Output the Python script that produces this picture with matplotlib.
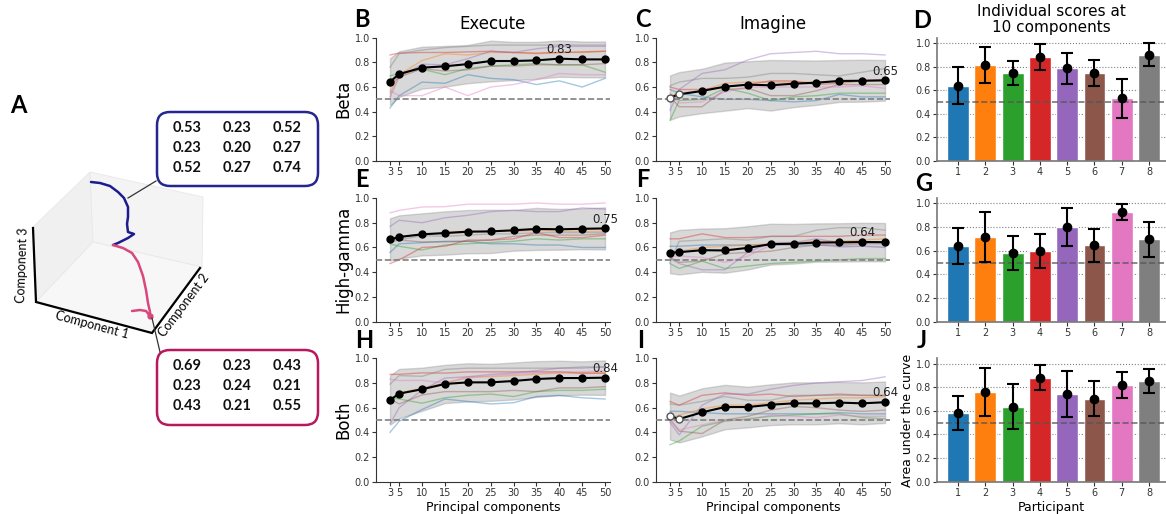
import matplotlib
matplotlib.use("Agg")
import matplotlib.pyplot as plt
from matplotlib.patches import FancyBboxPatch, Polygon
import numpy as np

plt.rcParams['font.family'] = 'DejaVu Sans'

# === DATA ===
components = [3, 5, 10, 15, 20, 25, 30, 35, 40, 45, 50]
participants = [1, 2, 3, 4, 5, 6, 7, 8]
part_colors = ['#1f77b4', '#ff7f0e', '#2ca02c', '#d62728',
               '#9467bd', '#8c564b', '#e377c2', '#7f7f7f']

# execute - beta
exe_beta_mean = [0.643, 0.705, 0.757, 0.768, 0.786, 0.811, 0.811, 0.816, 0.830, 0.824, 0.824]
exe_beta_sd = [0.19, 0.185, 0.17, 0.165, 0.155, 0.165, 0.155, 0.15, 0.147, 0.145, 0.145]
exe_beta_subj = [
    [0.43, 0.53, 0.64, 0.63, 0.70, 0.67, 0.66, 0.62, 0.65, 0.60, 0.67],
    [0.55, 0.70, 0.815, 0.87, 0.86, 0.88, 0.88, 0.87, 0.88, 0.88, 0.89],
    [0.69, 0.71, 0.745, 0.70, 0.75, 0.77, 0.78, 0.79, 0.78, 0.78, 0.72],
    [0.86, 0.875, 0.88, 0.88, 0.885, 0.89, 0.88, 0.875, 0.88, 0.885, 0.89],
    [0.52, 0.68, 0.785, 0.78, 0.83, 0.89, 0.88, 0.91, 0.93, 0.93, 0.93],
    [0.62, 0.68, 0.748, 0.73, 0.74, 0.77, 0.77, 0.78, 0.78, 0.78, 0.79],
    [0.57, 0.53, 0.53, 0.60, 0.53, 0.60, 0.62, 0.66, 0.71, 0.70, 0.70],
    [0.76, 0.87, 0.90, 0.92, 0.93, 0.94, 0.94, 0.94, 0.94, 0.94, 0.94],
]
exe_beta_nonsig = []

# execute - high gamma
exe_hg_mean = [0.666, 0.685, 0.706, 0.717, 0.728, 0.730, 0.739, 0.750, 0.747, 0.751, 0.754]
exe_hg_sd = [0.17, 0.175, 0.17, 0.175, 0.175, 0.175, 0.165, 0.17, 0.165, 0.165, 0.17]
exe_hg_subj = [
    [0.56, 0.63, 0.639, 0.65, 0.65, 0.63, 0.63, 0.62, 0.62, 0.60, 0.60],
    [0.66, 0.68, 0.713, 0.71, 0.72, 0.73, 0.73, 0.74, 0.73, 0.73, 0.73],
    [0.63, 0.61, 0.58, 0.62, 0.63, 0.64, 0.65, 0.67, 0.66, 0.67, 0.67],
    [0.47, 0.50, 0.60, 0.61, 0.66, 0.66, 0.67, 0.72, 0.68, 0.68, 0.70],
    [0.77, 0.82, 0.80, 0.84, 0.86, 0.89, 0.90, 0.89, 0.89, 0.92, 0.91],
    [0.67, 0.66, 0.645, 0.645, 0.65, 0.66, 0.69, 0.70, 0.70, 0.70, 0.71],
    [0.88, 0.90, 0.927, 0.93, 0.95, 0.95, 0.95, 0.96, 0.95, 0.95, 0.96],
    [0.64, 0.66, 0.696, 0.69, 0.70, 0.71, 0.71, 0.72, 0.72, 0.72, 0.72],
]
exe_hg_nonsig = []

# execute - both
exe_both_mean = [0.662, 0.714, 0.749, 0.792, 0.805, 0.805, 0.816, 0.832, 0.840, 0.840, 0.843]
exe_both_sd = [0.20, 0.20, 0.175, 0.155, 0.155, 0.15, 0.15, 0.145, 0.14, 0.135, 0.14]
exe_both_subj = [
    [0.40, 0.49, 0.585, 0.67, 0.65, 0.63, 0.64, 0.69, 0.70, 0.68, 0.67],
    [0.65, 0.72, 0.759, 0.80, 0.85, 0.85, 0.86, 0.87, 0.88, 0.88, 0.88],
    [0.68, 0.67, 0.636, 0.68, 0.70, 0.71, 0.69, 0.73, 0.74, 0.74, 0.75],
    [0.87, 0.87, 0.882, 0.88, 0.89, 0.89, 0.89, 0.89, 0.89, 0.88, 0.88],
    [0.47, 0.60, 0.742, 0.84, 0.85, 0.87, 0.88, 0.90, 0.92, 0.92, 0.93],
    [0.67, 0.63, 0.703, 0.73, 0.73, 0.73, 0.74, 0.73, 0.76, 0.76, 0.77],
    [0.83, 0.82, 0.821, 0.80, 0.84, 0.86, 0.87, 0.88, 0.89, 0.89, 0.90],
    [0.79, 0.86, 0.854, 0.91, 0.92, 0.92, 0.92, 0.92, 0.92, 0.93, 0.93],
]
exe_both_nonsig = []

# imagine - beta
img_beta_mean = [0.514, 0.541, 0.568, 0.603, 0.619, 0.614, 0.627, 0.635, 0.649, 0.651, 0.654]
img_beta_sd = [0.18, 0.18, 0.18, 0.195, 0.19, 0.205, 0.19, 0.18, 0.17, 0.17, 0.165]
img_beta_subj = [
    [0.58, 0.55, 0.52, 0.50, 0.50, 0.49, 0.48, 0.49, 0.54, 0.52, 0.52],
    [0.53, 0.55, 0.57, 0.63, 0.64, 0.64, 0.64, 0.64, 0.65, 0.65, 0.65],
    [0.33, 0.49, 0.50, 0.59, 0.55, 0.49, 0.52, 0.53, 0.55, 0.55, 0.55],
    [0.60, 0.58, 0.58, 0.60, 0.62, 0.65, 0.65, 0.62, 0.63, 0.65, 0.66],
    [0.41, 0.58, 0.71, 0.74, 0.82, 0.87, 0.88, 0.89, 0.87, 0.87, 0.86],
    [0.52, 0.44, 0.44, 0.58, 0.59, 0.53, 0.53, 0.57, 0.62, 0.62, 0.62],
    [0.55, 0.47, 0.48, 0.56, 0.60, 0.60, 0.60, 0.60, 0.60, 0.61, 0.59],
    [0.61, 0.64, 0.67, 0.67, 0.68, 0.71, 0.71, 0.70, 0.69, 0.72, 0.75],
]
img_beta_nonsig = [0, 1]

# imagine - high gamma
img_hg_mean = [0.557, 0.562, 0.578, 0.576, 0.597, 0.627, 0.630, 0.640, 0.641, 0.644, 0.643]
img_hg_sd = [0.165, 0.18, 0.175, 0.18, 0.175, 0.165, 0.16, 0.155, 0.155, 0.155, 0.155]
img_hg_subj = [
    [0.61, 0.61, 0.62, 0.62, 0.62, 0.62, 0.62, 0.62, 0.61, 0.61, 0.60],
    [0.56, 0.57, 0.60, 0.61, 0.62, 0.63, 0.64, 0.65, 0.65, 0.66, 0.67],
    [0.47, 0.43, 0.49, 0.43, 0.45, 0.47, 0.48, 0.49, 0.50, 0.51, 0.51],
    [0.67, 0.67, 0.71, 0.68, 0.68, 0.69, 0.69, 0.69, 0.69, 0.70, 0.70],
    [0.51, 0.47, 0.42, 0.42, 0.56, 0.64, 0.64, 0.67, 0.64, 0.65, 0.64],
    [0.52, 0.48, 0.49, 0.55, 0.56, 0.57, 0.60, 0.62, 0.62, 0.63, 0.63],
    [0.53, 0.53, 0.52, 0.48, 0.53, 0.62, 0.63, 0.64, 0.60, 0.61, 0.61],
    [0.48, 0.65, 0.66, 0.67, 0.66, 0.69, 0.69, 0.74, 0.76, 0.76, 0.74],
]
img_hg_nonsig = []

# imagine - both
img_both_mean = [0.532, 0.508, 0.562, 0.605, 0.605, 0.624, 0.635, 0.635, 0.641, 0.635, 0.644]
img_both_sd = [0.19, 0.19, 0.195, 0.18, 0.165, 0.165, 0.17, 0.17, 0.168, 0.17, 0.168]
img_both_subj = [
    [0.57, 0.57, 0.56, 0.55, 0.55, 0.55, 0.55, 0.55, 0.56, 0.55, 0.55],
    [0.51, 0.54, 0.59, 0.62, 0.62, 0.64, 0.66, 0.67, 0.68, 0.68, 0.69],
    [0.30, 0.33, 0.45, 0.49, 0.51, 0.53, 0.54, 0.55, 0.55, 0.52, 0.51],
    [0.65, 0.62, 0.70, 0.72, 0.70, 0.71, 0.69, 0.70, 0.71, 0.70, 0.70],
    [0.48, 0.38, 0.62, 0.71, 0.71, 0.75, 0.78, 0.80, 0.81, 0.82, 0.85],
    [0.51, 0.41, 0.39, 0.50, 0.53, 0.58, 0.61, 0.60, 0.58, 0.57, 0.58],
    [0.49, 0.42, 0.46, 0.50, 0.50, 0.54, 0.53, 0.52, 0.54, 0.53, 0.53],
    [0.63, 0.62, 0.65, 0.69, 0.66, 0.66, 0.70, 0.70, 0.70, 0.70, 0.70],
]
img_both_nonsig = [0, 1]

# individual scores at 10 components
bar_beta_mean = [0.637, 0.815, 0.745, 0.881, 0.785, 0.748, 0.530, 0.901]
bar_beta_sd = [0.158, 0.155, 0.105, 0.108, 0.13, 0.11, 0.165, 0.10]
bar_hg_mean = [0.639, 0.713, 0.580, 0.600, 0.800, 0.645, 0.927, 0.696]
bar_hg_sd = [0.153, 0.21, 0.142, 0.145, 0.16, 0.141, 0.066, 0.146]
bar_both_mean = [0.585, 0.759, 0.636, 0.882, 0.742, 0.703, 0.821, 0.854]
bar_both_sd = [0.144, 0.20, 0.188, 0.107, 0.193, 0.148, 0.11, 0.099]

# panel A: projected PCA trajectory and covariance matrices
traj_blue_x = [91, 100, 110, 118, 124, 128, 128, 127, 128, 134, 128, 118, 113]
traj_blue_y = [182, 183, 186, 192, 198, 207, 217, 224, 232, 234, 238, 243, 245]
traj_pink_x = [113, 123, 132, 138, 143, 146, 148, 150, 150, 146, 140, 132]
traj_pink_y = [245, 248, 253, 262, 276, 290, 303, 312, 316, 311, 310, 311]
cov_top = [[0.53, 0.23, 0.52], [0.23, 0.20, 0.27], [0.52, 0.27, 0.74]]
cov_bottom = [[0.69, 0.23, 0.43], [0.23, 0.24, 0.21], [0.43, 0.21, 0.55]]

W, H = 1166, 514
fig = plt.figure(figsize=(W / 100, H / 100), dpi=100)


def px_axes(left, right, top_px, bottom_px):
    return fig.add_axes([left / W, 1 - bottom_px / H,
                         (right - left) / W, (bottom_px - top_px) / H])


def letter(s, x, y):
    fig.text(x / W, 1 - y / H, s, fontsize=17, fontweight='bold',
             family=['Lato', 'DejaVu Sans'], ha='left', va='baseline')


def curve_panel(ax, mean, sd, subj, nonsig, title=None, ylabel=None, xlabel=None):
    mean = np.array(mean)
    sd = np.array(sd)
    ax.fill_between(components, mean - sd, mean + sd, color='gray', alpha=0.3,
                    lw=1, zorder=1)
    for i, s in enumerate(subj):
        ax.plot(components, s, color=part_colors[i], alpha=0.4, lw=1, zorder=2)
    ax.axhline(0.5, color='gray', ls='--', lw=1.2, zorder=3)
    ax.plot(components, mean, color='black', lw=1.5, zorder=4)
    for j, (c, m) in enumerate(zip(components, mean)):
        if j in nonsig:
            ax.plot(c, m, 'o', ms=5, mfc='white', mec='#555555', mew=1, zorder=5)
        else:
            ax.plot(c, m, 'o', ms=5, color='black', zorder=5)
    k = int(np.argmax(mean))
    ax.text(components[k], mean[k] + 0.075, f"{mean[k]:.2f}", ha='center',
            va='center', fontsize=8.5, color='#222222')
    ax.set_xlim(0, 51)
    ax.set_ylim(0, 1)
    ax.set_xticks(components)
    ax.set_xticklabels([str(c) for c in components])
    ax.set_yticks([0, 0.2, 0.4, 0.6, 0.8, 1.0])
    ax.tick_params(labelsize=7, length=3, pad=1.5, colors='#333333')
    for sp in ['top', 'right']:
        ax.spines[sp].set_visible(False)
    for sp in ['left', 'bottom']:
        ax.spines[sp].set_color('#333333')
    if title:
        ax.set_title(title, fontsize=12, pad=6)
    if ylabel:
        ax.set_ylabel(ylabel, fontsize=12, labelpad=2)
    if xlabel:
        ax.set_xlabel(xlabel, fontsize=9, labelpad=2)


def bar_panel(ax, mean, sd, title=None, ylabel=None, xlabel=None):
    pos = np.arange(len(participants))
    ax.bar(pos, mean, width=0.8, color=part_colors, edgecolor='white', lw=1, zorder=2)
    ax.errorbar(pos, mean, yerr=sd, fmt='o', color='black', ms=6, capsize=4,
                elinewidth=1.5, capthick=1.5, zorder=4)
    ax.axhline(0.5, color='#555555', ls='--', lw=1.2, alpha=0.8, zorder=3)
    ax.set_xlim(-0.77, 7.62)
    ax.set_ylim(0, 1.045)
    ax.set_xticks(pos)
    ax.set_xticklabels([str(p) for p in participants])
    ax.set_yticks([0, 0.2, 0.4, 0.6, 0.8, 1.0])
    ax.yaxis.grid(True, ls=':', color='gray', lw=0.8)
    ax.set_axisbelow(True)
    ax.tick_params(labelsize=7, length=3, pad=1.5, colors='#333333')
    for sp in ['top', 'right']:
        ax.spines[sp].set_visible(False)
    for sp in ['left', 'bottom']:
        ax.spines[sp].set_color('#777777')
        ax.spines[sp].set_linewidth(1.2)
    if title:
        ax.set_title(title, fontsize=11, pad=4, linespacing=1.1)
    if ylabel:
        ax.set_ylabel(ylabel, fontsize=9, labelpad=1)
    if xlabel:
        ax.set_xlabel(xlabel, fontsize=9, labelpad=2)


rows = [(37.7, 161), (198, 321.7), (358.3, 481.7)]

axB = px_axes(376.3, 609.6, *rows[0])
axE = px_axes(376.3, 609.6, *rows[1])
axH = px_axes(376.3, 609.6, *rows[2])
axC = px_axes(656.3, 889.6, *rows[0])
axF = px_axes(656.3, 889.6, *rows[1])
axI = px_axes(656.3, 889.6, *rows[2])
axD = px_axes(937, 1166, *rows[0])
axG = px_axes(937, 1166, *rows[1])
axJ = px_axes(937, 1166, *rows[2])

curve_panel(axB, exe_beta_mean, exe_beta_sd, exe_beta_subj, exe_beta_nonsig,
            title='Execute', ylabel='Beta')
curve_panel(axE, exe_hg_mean, exe_hg_sd, exe_hg_subj, exe_hg_nonsig,
            ylabel='High-gamma')
curve_panel(axH, exe_both_mean, exe_both_sd, exe_both_subj, exe_both_nonsig,
            ylabel='Both', xlabel='Principal components')
curve_panel(axC, img_beta_mean, img_beta_sd, img_beta_subj, img_beta_nonsig,
            title='Imagine')
curve_panel(axF, img_hg_mean, img_hg_sd, img_hg_subj, img_hg_nonsig)
curve_panel(axI, img_both_mean, img_both_sd, img_both_subj, img_both_nonsig,
            xlabel='Principal components')

bar_panel(axD, bar_beta_mean, bar_beta_sd, title='Individual scores at\n10 components')
bar_panel(axG, bar_hg_mean, bar_hg_sd)
bar_panel(axJ, bar_both_mean, bar_both_sd, ylabel='Area under the curve',
          xlabel='Participant')

# === PANEL A ===
axA = fig.add_axes([0, 4 / H, 330 / W, 460 / H])
axA.set_xlim(0, 330)
axA.set_ylim(510, 50)
axA.axis('off')

# cube panes (decoration)
axA.add_patch(Polygon([(33, 227), (90, 172), (93, 242), (36, 302)],
                      closed=True, fc='#f0f0f0', ec='#e8e8e8', lw=0.6))
axA.add_patch(Polygon([(90, 172), (203, 197), (202, 267), (93, 242)],
                      closed=True, fc='#f4f4f4', ec='#e8e8e8', lw=0.6))
axA.add_patch(Polygon([(36, 302), (93, 242), (202, 267), (152, 333)],
                      closed=True, fc='#f7f7f7', ec='#e8e8e8', lw=0.6))
axA.plot([33, 36, 152, 200], [228, 302, 333, 268], color='black', lw=1.6,
         solid_joinstyle='miter')

lab_font = ['Lato', 'DejaVu Sans']
axA.text(22, 265, 'Component 3', rotation=88, ha='center', va='center',
         fontsize=9, family=lab_font)
axA.text(92, 325, 'Component 1', rotation=-15, ha='center', va='center',
         fontsize=9, family=lab_font)
axA.text(184, 305, 'Component 2', rotation=53, ha='center', va='center',
         fontsize=9, family=lab_font)

blue_c = '#1c1c8f'
pink_c = '#d8477d'
axA.plot(traj_blue_x, traj_blue_y, color=blue_c, lw=1.8, solid_capstyle='round')
axA.plot(traj_pink_x, traj_pink_y, color=pink_c, lw=1.8, solid_capstyle='round')
axA.plot(traj_pink_x[8], traj_pink_y[8], 'o', color=pink_c, ms=3.5)

# connectors
axA.plot([128, 156], [198, 181], color='#333333', lw=0.9)
axA.plot([152, 160], [318, 352], color='#333333', lw=0.9)

for (bx, by, bw, bh), ec, mat in [((157, 112, 161, 74), '#26268f', cov_top),
                                  ((157, 350, 161, 75), '#b8185c', cov_bottom)]:
    axA.add_patch(FancyBboxPatch((bx, by), bw, bh,
                                 boxstyle='round,pad=0,rounding_size=13',
                                 fc='white', ec=ec, lw=1.8))
    for r, row in enumerate(mat):
        for c, v in enumerate(row):
            axA.text(bx + 30 + c * 50, by + 16 + r * 20, f"{v:.2f}",
                     ha='center', va='center', fontsize=10.5, fontweight='bold',
                     family=lab_font, color='#111111')

letter('A', 10, 113)
letter('B', 354, 27)
letter('C', 635, 27)
letter('D', 913, 28)
letter('E', 355, 187)
letter('F', 636, 187)
letter('G', 915, 191)
letter('H', 355, 348)
letter('I', 637, 348)
letter('J', 917, 348)

fig.savefig('out.png', dpi=100)
